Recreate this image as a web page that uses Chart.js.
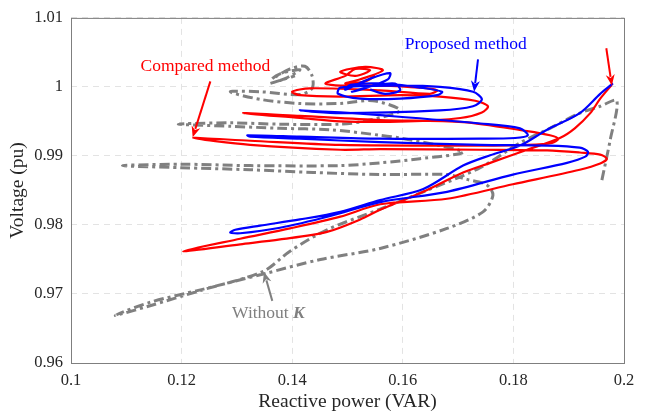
<!DOCTYPE html>
<html>
<head>
<meta charset="utf-8">
<script src="https://cdn.jsdelivr.net/npm/chart.js@4.4.0/dist/chart.umd.min.js"></script>
<style>
  html, body { margin: 0; padding: 0; background: #fff; }
  #wrap { width: 648px; height: 411px; }
</style>
</head>
<body>
<div id="wrap"><canvas id="chart" width="648" height="411"></canvas></div>
<script>
// traces: reactive power (x) against voltage (y)
const proposedQ = [0.1980,0.1957,0.1920,0.1861,0.1812,0.1758,0.1709,0.1637,0.1559,0.1487,
  0.1414,0.1342,0.1297,0.1288,0.1306,0.1378,0.1469,0.1559,0.1680,0.1799,
  0.1897,0.1930,0.1935,0.1920,0.1861,0.1740,0.1559,0.1414,0.1324,0.1319,
  0.1414,0.1559,0.1740,0.1803,0.1826,0.1812,0.1740,0.1559,0.1487,0.1414,
  0.1487,0.1667,0.1727,0.1743,0.1727,0.1667,0.1595,0.1487,0.1483,0.1523,
  0.1595,0.1662,0.1671,0.1631,0.1559,0.1505,0.1496,0.1541,0.1577,0.1573,
  0.1532,0.1508,0.1550,0.1586,0.1595,0.1568,0.1541];
const proposedV = [1.0005,0.9990,0.9962,0.9938,0.9915,0.9901,0.9886,0.9852,0.9836,0.9819,
  0.9808,0.9799,0.9793,0.9789,0.9788,0.9796,0.9813,0.9833,0.9848,0.9873,
  0.9890,0.9899,0.9906,0.9912,0.9915,0.9916,0.9920,0.9925,0.9928,0.9930,
  0.9928,0.9925,0.9925,0.9926,0.9930,0.9940,0.9947,0.9959,0.9963,0.9966,
  0.9962,0.9966,0.9972,0.9982,0.9993,1.0000,1.0002,0.9999,0.9990,0.9983,
  0.9983,0.9988,0.9993,0.9999,1.0005,1.0003,0.9996,1.0012,1.0020,1.0011,
  0.9998,0.9993,1.0002,1.0005,0.9995,0.9990,0.9996];

const comparedQ = [0.1978,0.1957,0.1939,0.1911,0.1884,0.1825,0.1758,0.1709,0.1637,0.1559,
  0.1523,0.1463,0.1378,0.1306,0.1203,0.1306,0.1396,0.1487,0.1559,0.1680,
  0.1799,0.1920,0.1957,0.1969,0.1957,0.1920,0.1861,0.1740,0.1559,0.1487,
  0.1324,0.1221,0.1324,0.1487,0.1740,0.1825,0.1870,0.1881,0.1866,0.1825,
  0.1709,0.1559,0.1414,0.1311,0.1414,0.1487,0.1608,0.1704,0.1743,0.1754,
  0.1731,0.1667,0.1595,0.1487,0.1414,0.1400,0.1432,0.1559,0.1649,0.1662,
  0.1631,0.1559,0.1487,0.1460,0.1496,0.1514,0.1541,0.1514,0.1487,0.1532,
  0.1564,0.1523,0.1496,0.1532,0.1550];
const comparedV = [1.0003,0.9983,0.9962,0.9940,0.9926,0.9909,0.9890,0.9876,0.9848,0.9822,
  0.9808,0.9790,0.9779,0.9772,0.9762,0.9780,0.9795,0.9812,0.9830,0.9838,
  0.9859,0.9880,0.9889,0.9896,0.9902,0.9905,0.9908,0.9909,0.9910,0.9909,
  0.9916,0.9926,0.9922,0.9916,0.9915,0.9916,0.9919,0.9925,0.9930,0.9936,
  0.9949,0.9952,0.9958,0.9962,0.9955,0.9950,0.9950,0.9955,0.9963,0.9972,
  0.9980,0.9986,0.9988,0.9986,0.9988,0.9993,0.9998,0.9995,0.9990,0.9995,
  0.9999,1.0002,1.0002,1.0005,1.0016,1.0026,1.0024,1.0016,1.0022,1.0029,
  1.0024,1.0011,1.0005,1.0008,1.0016];

const withoutKQ = [0.1960,0.1975,0.1987,0.1957,0.1920,0.1866,0.1812,0.1740,0.1637,0.1559,
  0.1463,0.1396,0.1348,0.1234,0.1143,0.1080,0.1143,0.1234,0.1348,0.1451,
  0.1559,0.1680,0.1745,0.1763,0.1752,0.1716,0.1680,0.1559,0.1438,0.1324,
  0.1198,0.1093,0.1198,0.1324,0.1487,0.1559,0.1631,0.1709,0.1667,0.1595,
  0.1559,0.1469,0.1378,0.1288,0.1194,0.1288,0.1378,0.1487,0.1541,0.1595,
  0.1546,0.1487,0.1414,0.1342,0.1288,0.1342,0.1414,0.1436,0.1436,0.1423,
  0.1396,0.1364,0.1378,0.1414,0.1387,0.1360,0.1405];
const withoutKV = [0.9865,0.9923,0.9980,0.9972,0.9962,0.9940,0.9919,0.9883,0.9848,0.9823,
  0.9793,0.9762,0.9733,0.9705,0.9683,0.9669,0.9688,0.9706,0.9729,0.9750,
  0.9766,0.9795,0.9819,0.9843,0.9858,0.9866,0.9873,0.9873,0.9876,0.9880,
  0.9883,0.9886,0.9888,0.9886,0.9886,0.9890,0.9896,0.9905,0.9915,0.9926,
  0.9930,0.9938,0.9940,0.9943,0.9946,0.9948,0.9946,0.9946,0.9952,0.9966,
  0.9980,0.9976,0.9976,0.9982,0.9993,0.9993,0.9989,0.9998,1.0016,1.0030,
  1.0026,1.0012,1.0019,1.0025,1.0012,1.0005,1.0016];

const xTickValues = [0.1, 0.12, 0.14, 0.16, 0.18, 0.2];
const xTickLabels = ['0.1', '0.12', '0.14', '0.16', '0.18', '0.2'];
const yTickValues = [0.96, 0.97, 0.98, 0.99, 1.0, 1.01];
const yTickLabels = ['0.96', '0.97', '0.98', '0.99', '1', '1.01'];

// annotation texts (anchor in data units) and arrows (tail -> head)
const noteText = ['Proposed method', 'Compared method', 'Without '];
const noteQ = [0.1714, 0.1243, 0.1357];
const noteV = [1.0062, 1.0030, 0.9672];
const noteColor = ['#0000ff', '#ff0000', '#808080'];

const arrowFromQ = [0.1736, 0.1252, 0.1968, 0.1364];
const arrowFromV = [1.0040, 1.0008, 1.0056, 0.9690];
const arrowToQ = [0.1729, 0.1220, 0.1978, 0.1349];
const arrowToV = [0.9993, 0.9927, 1.0002, 0.9732];
const arrowColor = ['#0000ff', '#ff0000', '#ff0000', '#808080'];

const serif = '"Liberation Serif", "DejaVu Serif", serif';

function toPoints(xs, ys) {
  return xs.map((x, i) => ({ x: x, y: ys[i] }));
}

const decorPlugin = {
  id: 'decor',
  afterDraw(chart) {
    const ctx = chart.ctx;
    const xs = chart.scales.x, ys = chart.scales.y;
    const area = chart.chartArea;

    // box round the axes
    ctx.save();
    ctx.strokeStyle = '#7f7f7f';
    ctx.lineWidth = 1;
    ctx.strokeRect(area.left + 0.5, area.top + 0.5, area.right - area.left, area.bottom - area.top);
    ctx.restore();

    // arrows
    for (let i = 0; i < arrowFromQ.length; i++) {
      const x0 = xs.getPixelForValue(arrowFromQ[i]), y0 = ys.getPixelForValue(arrowFromV[i]);
      const x1 = xs.getPixelForValue(arrowToQ[i]), y1 = ys.getPixelForValue(arrowToV[i]);
      const ang = Math.atan2(y1 - y0, x1 - x0);
      const head = 11, half = 4.5;
      ctx.save();
      ctx.strokeStyle = arrowColor[i];
      ctx.fillStyle = arrowColor[i];
      ctx.lineWidth = 2;
      ctx.beginPath();
      ctx.moveTo(x0, y0);
      ctx.lineTo(x1 - Math.cos(ang) * head * 0.8, y1 - Math.sin(ang) * head * 0.8);
      ctx.stroke();
      ctx.beginPath();
      ctx.moveTo(x1, y1);
      ctx.lineTo(x1 - Math.cos(ang) * head - Math.sin(ang) * half, y1 - Math.sin(ang) * head + Math.cos(ang) * half);
      ctx.lineTo(x1 - Math.cos(ang) * head * 0.7, y1 - Math.sin(ang) * head * 0.7);
      ctx.lineTo(x1 - Math.cos(ang) * head + Math.sin(ang) * half, y1 - Math.sin(ang) * head - Math.cos(ang) * half);
      ctx.closePath();
      ctx.fill();
      ctx.restore();
    }

    // labels
    ctx.save();
    ctx.textBaseline = 'middle';
    const fs = '17.5px ';
    for (let i = 0; i < noteText.length; i++) {
      const px = xs.getPixelForValue(noteQ[i]), py = ys.getPixelForValue(noteV[i]);
      ctx.fillStyle = noteColor[i];
      if (i === 2) {
        ctx.font = fs + serif;
        const w1 = ctx.measureText(noteText[i]).width;
        ctx.font = 'italic bold ' + fs + serif;
        const w2 = ctx.measureText('K').width;
        const start = px - (w1 + w2) / 2;
        ctx.textAlign = 'left';
        ctx.font = fs + serif;
        ctx.fillText(noteText[i], start, py);
        ctx.font = 'italic bold ' + fs + serif;
        ctx.fillText('K', start + w1, py);
      } else {
        ctx.font = fs + serif;
        ctx.textAlign = 'center';
        ctx.fillText(noteText[i], px, py);
      }
    }
    ctx.restore();
  }
};

new Chart(document.getElementById('chart').getContext('2d'), {
  type: 'scatter',
  data: {
    datasets: [
      {
        label: 'Proposed method',
        data: toPoints(proposedQ, proposedV),
        showLine: true,
        borderColor: '#0000ff',
        borderWidth: 2.2,
        pointRadius: 0,
        tension: 0.3,
        order: 0
      },
      {
        label: 'Compared method',
        data: toPoints(comparedQ, comparedV),
        showLine: true,
        borderColor: '#ff0000',
        borderWidth: 2.2,
        pointRadius: 0,
        tension: 0.3,
        order: 1
      },
      {
        label: 'Without K',
        data: toPoints(withoutKQ, withoutKV),
        showLine: true,
        borderColor: '#808080',
        borderWidth: 3,
        borderDash: [10, 4, 3, 4],
        pointRadius: 0,
        tension: 0.3,
        order: 2
      }
    ]
  },
  options: {
    responsive: false,
    animation: false,
    devicePixelRatio: 1,
    layout: { padding: { left: 0, top: 13, right: 24, bottom: 0 } },
    plugins: {
      legend: { display: false },
      tooltip: { enabled: false }
    },
    scales: {
      x: {
        type: 'linear',
        min: 0.1,
        max: 0.2,
        afterBuildTicks: s => { s.ticks = xTickValues.map(v => ({ value: v })); },
        afterFit: s => { s.height = 48; },
        ticks: {
          callback: (v, i) => xTickLabels[i],
          color: '#262626',
          font: { family: serif, size: 16.5 },
          padding: 8,
          maxRotation: 0
        },
        grid: { color: '#e3e3e3', drawTicks: false, lineWidth: 1 },
        border: { display: false, dash: [6, 5] },
        title: {
          display: true,
          text: 'Reactive power (VAR)',
          color: '#262626',
          font: { family: serif, size: 19.5, lineHeight: 0.9 },
          padding: { top: 0, bottom: 0 }
        }
      },
      y: {
        type: 'linear',
        min: 0.96,
        max: 1.01,
        afterBuildTicks: s => { s.ticks = yTickValues.map(v => ({ value: v })); },
        afterFit: s => { s.width = 71; },
        ticks: {
          callback: (v, i) => yTickLabels[i],
          color: '#262626',
          font: { family: serif, size: 16.5 },
          padding: 8
        },
        grid: { color: '#e3e3e3', drawTicks: false, lineWidth: 1 },
        border: { display: false, dash: [6, 5] },
        title: {
          display: true,
          text: 'Voltage (pu)',
          color: '#262626',
          font: { family: serif, size: 19.5, lineHeight: 1.2 },
          padding: { top: 6, bottom: 0 }
        }
      }
    }
  },
  plugins: [decorPlugin]
});
</script>
</body>
</html>
